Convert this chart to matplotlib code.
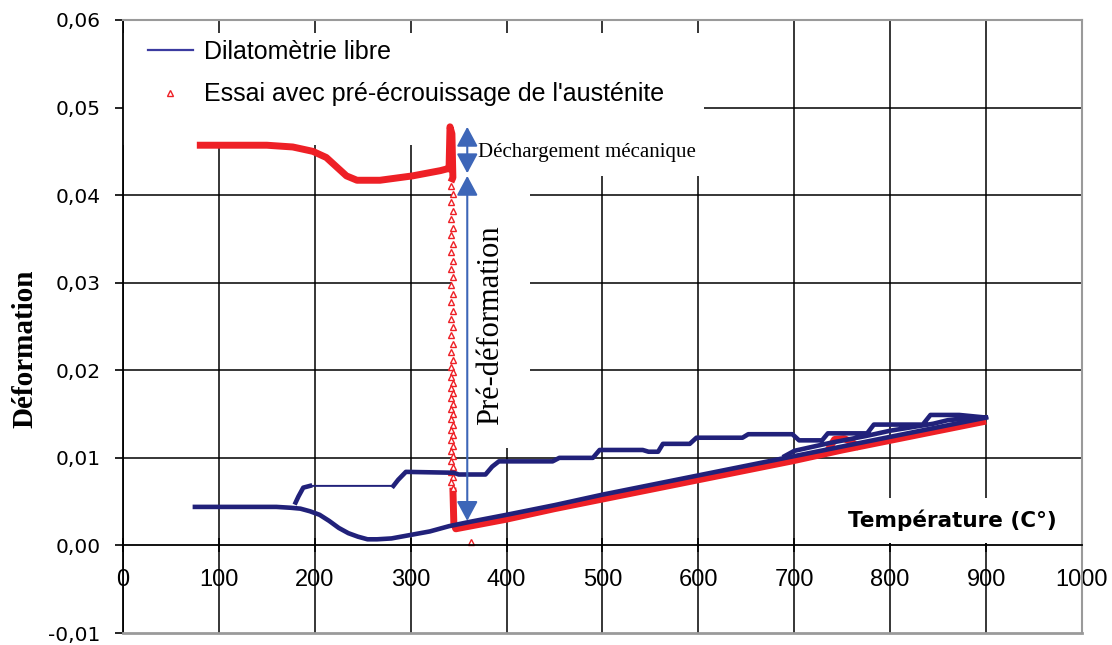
import matplotlib
matplotlib.use("Agg")
import matplotlib.pyplot as plt
from matplotlib.patches import Rectangle
from matplotlib.ticker import FuncFormatter


# --- Dilatometrie libre (blue) ---
# heating branch, stepped; the 195 -> 282 stretch is a thin single segment
heat_T = [180, 183, 188, 195, 282, 287, 295, 345, 350, 378, 385, 392, 448, 455,
          490, 497, 542, 548, 558, 563, 591, 598, 646, 652, 698, 705, 729, 735,
          776, 783, 834, 842, 872, 900, 880, 860, 845, 800, 775, 737, 700, 690]
heat_eps = [0.0049, 0.0056, 0.0066, 0.0068, 0.0068, 0.0075, 0.0084, 0.0083,
            0.0081, 0.0081, 0.0090, 0.0096, 0.0096, 0.0100, 0.0100, 0.0109,
            0.0109, 0.0107, 0.0107, 0.0116, 0.0116, 0.0123, 0.0123, 0.0127,
            0.0127, 0.0120, 0.0120, 0.0128, 0.0128, 0.0138, 0.0138, 0.0149,
            0.0149, 0.0146, 0.0145, 0.0143, 0.0139, 0.0131, 0.0125, 0.0117,
            0.0108, 0.0102]

# cooling branch
cool_T = [900, 850, 800, 750, 700, 650, 600, 550, 500, 450, 400, 362, 340, 320,
          300, 280, 265, 255, 245, 235, 225, 215, 205, 195, 185, 175, 160, 140,
          120, 100, 75]
cool_eps = [0.0146, 0.0135, 0.0124, 0.0113, 0.0102, 0.0091, 0.0080, 0.0069,
            0.0058, 0.0046, 0.0035, 0.0027, 0.0022, 0.0016, 0.0012, 0.0008,
            0.0007, 0.0007, 0.0010, 0.0014, 0.0020, 0.0028, 0.0035, 0.0039,
            0.0042, 0.0043, 0.0044, 0.0044, 0.0044, 0.0044, 0.0044]

# --- Essai avec pre-ecrouissage (red) ---
red_top_T = [77, 150, 177, 198, 212, 223, 233, 244, 268, 302, 331, 338, 340,
             341, 343, 344, 342]
red_top_eps = [0.0457, 0.0457, 0.0455, 0.0450, 0.0443, 0.0432, 0.0422, 0.0417,
               0.0417, 0.0422, 0.0428, 0.0430, 0.0430, 0.0478, 0.0470, 0.0420,
               0.0415]

red_col_T = [342, 344, 342, 344, 342, 344, 342, 344, 342, 344, 342, 344, 342,
             344, 342, 344, 342, 344, 342, 344, 342, 344, 342, 344, 342, 344,
             342, 344, 342, 344, 342, 344, 342, 344, 342, 344, 342, 344, 342,
             344, 342, 344, 342, 344, 342, 344]
red_col_eps = [0.0410, 0.0401, 0.0392, 0.0382, 0.0373, 0.0363, 0.0354, 0.0344,
               0.0335, 0.0325, 0.0316, 0.0306, 0.0297, 0.0287, 0.0278, 0.0268,
               0.0259, 0.0249, 0.0240, 0.0230, 0.0221, 0.0212, 0.0204, 0.0198,
               0.0192, 0.0186, 0.0180, 0.0174, 0.0168, 0.0162, 0.0156, 0.0150,
               0.0144, 0.0138, 0.0132, 0.0126, 0.0120, 0.0114, 0.0108, 0.0102,
               0.0096, 0.0090, 0.0084, 0.0078, 0.0072, 0.0066]

red_low_T = [344, 345, 347, 400, 450, 500, 550, 600, 650, 700, 750, 800, 850, 900]
red_low_eps = [0.0066, 0.0025, 0.0019, 0.0030, 0.0042, 0.0053, 0.0064, 0.0075,
               0.0086, 0.0097, 0.0109, 0.0120, 0.0131, 0.0142]

red_bump_T = [737, 742, 752, 760, 765]
red_bump_eps = [0.0112, 0.0121, 0.0122, 0.0118, 0.0114]

red_lone_T = [363]
red_lone_eps = [0.0004]

x_ticks = [0, 100, 200, 300, 400, 500, 600, 700, 800, 900, 1000]
y_ticks = [-0.01, 0.00, 0.01, 0.02, 0.03, 0.04, 0.05, 0.06]

BLUE = "#21217a"
RED = "#ee2026"
ARROW = "#3d66b8"

fig = plt.figure(figsize=(11.12, 6.45), dpi=100)
ax = fig.add_axes([0.1106, 0.0186, 0.8624, 0.9504])
ax.set_xlim(0, 1000)
ax.set_ylim(-0.01, 0.06)
ax.set_xticks(x_ticks)
ax.set_yticks(y_ticks)

# grid + frame
ax.set_axisbelow(True)
ax.grid(True, color="black", lw=1.1)
for gl, v in zip(ax.get_ygridlines(), y_ticks):
    if v in (-0.01, 0.0, 0.06):
        gl.set_visible(False)
for gl, v in zip(ax.get_xgridlines(), x_ticks):
    if v in (0, 1000):
        gl.set_visible(False)

ax.spines["bottom"].set_position(("data", 0))
ax.spines["bottom"].set_color("black")
ax.spines["bottom"].set_linewidth(1.3)
ax.spines["left"].set_linewidth(1.3)
for s in ("top", "right"):
    ax.spines[s].set_color("#9a9a9a")
    ax.spines[s].set_linewidth(1.5)
ax.axhline(-0.01, color="#9a9a9a", lw=2.0, clip_on=False, zorder=3)

# white blocks behind the legend and annotation texts
masks = [(0.0, 0.796, 0.606, 0.183),
         (0.348, 0.746, 0.258, 0.094),
         (0.343, 0.302, 0.081, 0.444),
         (0.753, 0.147, 0.245, 0.073)]
for x0, y0, w, h in masks:
    ax.add_patch(Rectangle((x0, y0), w, h, transform=ax.transAxes,
                           facecolor="white", edgecolor="none", zorder=1))

# red series
ax.plot(red_top_T, red_top_eps, color=RED, lw=5, solid_capstyle="butt", zorder=2)
ax.plot(red_low_T, red_low_eps, color=RED, lw=5, solid_capstyle="butt", zorder=2)
ax.plot(red_bump_T, red_bump_eps, color=RED, lw=5, zorder=2)
ax.plot(red_col_T, red_col_eps, ls="none", marker="^", ms=4, mfc="white",
        mec=RED, mew=1.0, zorder=2, label="Essai avec pré-écrouissage de l'austénite")
ax.plot(red_lone_T, red_lone_eps, ls="none", marker="^", ms=4, mfc="white",
        mec=RED, mew=1.0, zorder=2)

# blue series
ax.plot(heat_T, heat_eps, color=BLUE, lw=1.4, zorder=3)
ax.plot(heat_T[:4], heat_eps[:4], color=BLUE, lw=3.3, zorder=3)
ax.plot(heat_T[4:], heat_eps[4:], color=BLUE, lw=3.3, zorder=3)
ax.plot(cool_T, cool_eps, color=BLUE, lw=3.3, zorder=3)
ax.plot([], [], color="#3b3ba0", lw=1.6, label="Dilatomètrie libre")

# ticks
fmt = FuncFormatter(lambda v, p: ("%.2f" % v).replace(".", ",").replace("-0,00", "0,00"))
ax.yaxis.set_major_formatter(fmt)
ax.tick_params(axis="y", direction="out", length=6, width=1.2, pad=10)
ax.tick_params(axis="x", direction="inout", length=10, width=1.2, pad=12)
for lab in ax.get_yticklabels():
    lab.set_family("DejaVu Sans")
    lab.set_fontsize(14.5)
for lab in ax.get_xticklabels():
    lab.set_family("Liberation Sans")
    lab.set_fontsize(17)

# legend
handles, labels = ax.get_legend_handles_labels()
leg = ax.legend(handles[::-1], labels[::-1], loc="upper left",
                bbox_to_anchor=(0.026, 0.968), frameon=False, borderpad=0,
                borderaxespad=0, handlelength=1.8, handletextpad=0.45,
                labelspacing=0.75, prop={"family": "Liberation Sans", "size": 18})

# axis titles
fig.text(0.022, 0.46, "Déformation", rotation=90, ha="center", va="center",
         family="Liberation Serif", weight="bold", fontsize=21)
ax.text(0.8645, 0.184, "Température (C°)", transform=ax.transAxes, ha="center",
        va="center", family="DejaVu Sans", weight="bold", fontsize=15.5, zorder=4)

# annotations
ax.annotate("", xy=(359, 0.0478), xytext=(359, 0.0425),
            arrowprops=dict(arrowstyle="<|-|>,head_length=0.8,head_width=0.43",
                            mutation_scale=15, color=ARROW, lw=1.5,
                            shrinkA=0, shrinkB=0), zorder=4)
ax.annotate("", xy=(359, 0.0422), xytext=(359, 0.0028),
            arrowprops=dict(arrowstyle="<|-|>,head_length=0.8,head_width=0.43",
                            mutation_scale=15, color=ARROW, lw=1.5,
                            shrinkA=0, shrinkB=0), zorder=4)
ax.text(370, 0.0449, "Déchargement mécanique", ha="left", va="center",
        family="Liberation Serif", fontsize=15, zorder=4)
ax.text(383, 0.0251, "Pré-déformation", rotation=90, ha="center", va="center",
        family="Liberation Serif", fontsize=22, zorder=4)

fig.savefig("out.png", dpi=100)
